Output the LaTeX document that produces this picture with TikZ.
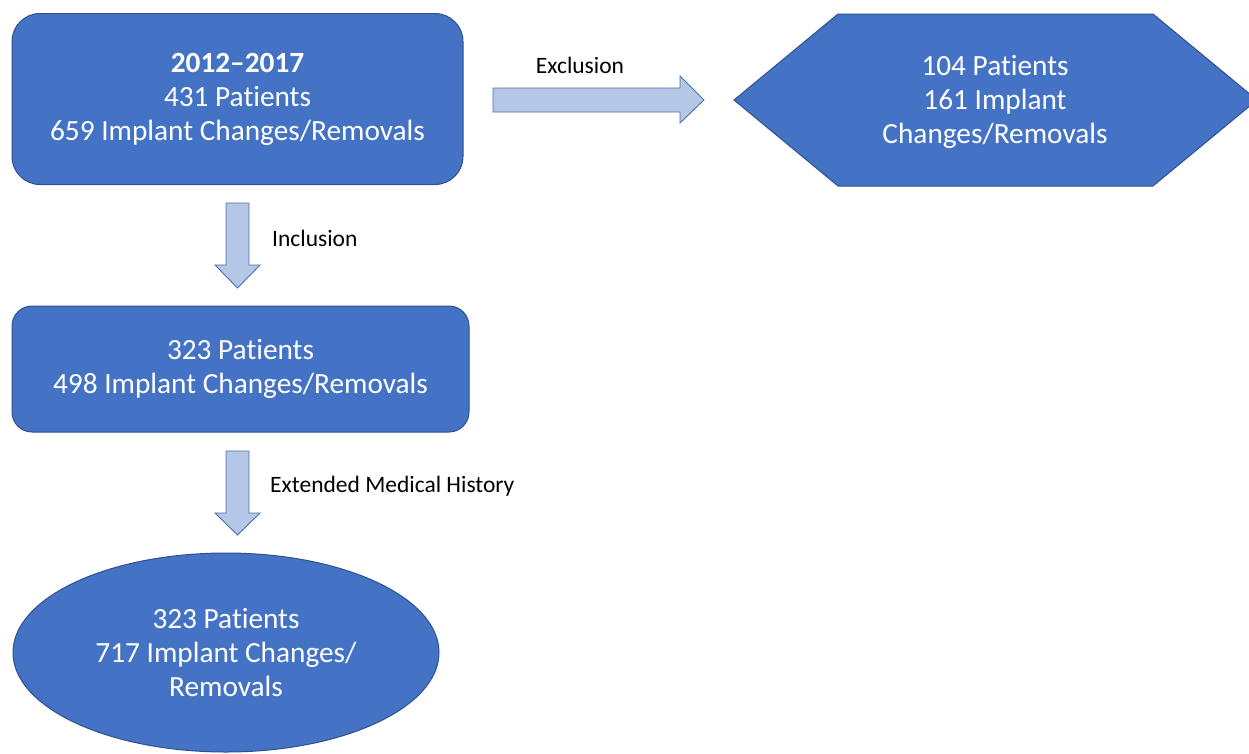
\documentclass[tikz,border=0pt]{standalone}
\usepackage{fontspec}
\setmainfont{Carlito}[RawFeature=-liga]
\usetikzlibrary{shapes.geometric}
\definecolor{boxblue}{HTML}{4472C4}
\definecolor{boxedge}{HTML}{2F528F}
\definecolor{arrowfill}{HTML}{B4C7E7}
\definecolor{arrowedge}{HTML}{4A6FAE}
\begin{document}
\begin{tikzpicture}[x=1pt,y=-1pt,
  block/.style={fill=boxblue, draw=boxedge, line width=1pt, text=white,
    align=center, font=\fontsize{29.3}{34}\selectfont, inner sep=0pt},
  roundbox/.style={block, rectangle},
  blockarrow/.style={fill=arrowfill, draw=arrowedge, line width=0.9pt, line join=miter},
  steplabel/.style={font=\fontsize{23.5}{28}\selectfont, text=black, inner sep=0pt}]
\useasboundingbox (0,0) rectangle (1249,753);

% start box
\node[roundbox, rounded corners=28pt, minimum width=451pt, minimum height=171pt]
  (start) at (237.5,99) {\textbf{2012–2017}\\431 Patients\\659 Implant Changes/Removals};

% excluded cases (hexagon)
\draw[block] (734,100) -- (838,14) -- (1153,14) -- (1257,100) -- (1153,186) -- (838,186) -- cycle;
\node[block, fill=none, draw=none] (excl) at (995,102)
  {104 Patients\\161 Implant\\Changes/Removals};

% included cases
\node[roundbox, rounded corners=20pt, minimum width=457pt, minimum height=126pt]
  (incl) at (240.5,369) {323 Patients\\498 Implant Changes/Removals};

% extended history
\node[block, ellipse, minimum width=426pt, minimum height=199pt]
  (ext) at (226,652.5) {323 Patients\\717 Implant Changes/\\Removals};

% block arrows
\draw[blockarrow] (493,88) -- (680,88) -- (680,76) -- (704,100) -- (680,123) -- (680,112) -- (493,112) -- cycle;
\node[steplabel] (lblexcl) at (580,65) {Exclusion};

\draw[blockarrow] (226,203) -- (249,203) -- (249,265) -- (260,265) -- (237.5,288) -- (215,265) -- (226,265) -- cycle;
\node[steplabel, anchor=west] (lblincl) at (272,238) {Inclusion};

\draw[blockarrow] (226,451) -- (249,451) -- (249,513) -- (260,513) -- (237.5,535) -- (215,513) -- (226,513) -- cycle;
\node[steplabel, anchor=west] (lblext) at (270,486) {Extended Medical History};
\end{tikzpicture}
\end{document}
